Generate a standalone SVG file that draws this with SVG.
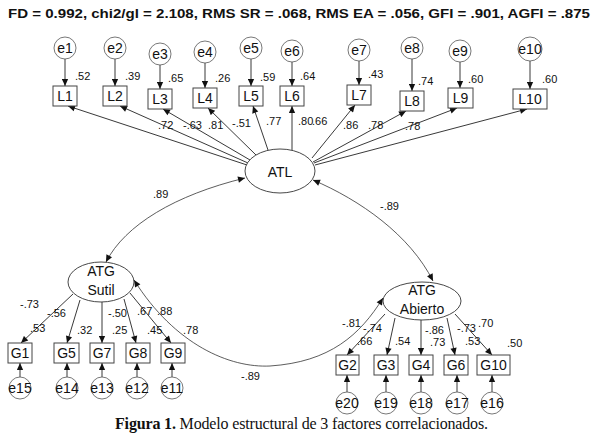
<svg xmlns="http://www.w3.org/2000/svg" width="601" height="445" viewBox="0 0 601 445">
<defs>
<marker id="ah" viewBox="0 0 10 10" refX="10" refY="5" markerWidth="8" markerHeight="7" markerUnits="userSpaceOnUse" orient="auto-start-reverse"><path d="M0,0.5 L10,5 L0,9.5 z" fill="#111"/></marker>
<style>
.bx{fill:#fff;stroke:#444;stroke-width:1}
.ci{fill:#fff;stroke:#555;stroke-width:0.8}
.el{fill:#fff;stroke:#333;stroke-width:0.9}
.nt{font-family:"Liberation Sans",Arial,sans-serif;font-size:14px;fill:#111;text-anchor:middle}
.lt{font-family:"Liberation Sans",Arial,sans-serif;font-size:14px;fill:#111;text-anchor:middle}
.lb{font-family:"Liberation Sans",Arial,sans-serif;font-size:11px;fill:#111}
.ar{fill:none;stroke:#222;stroke-width:0.9;marker-end:url(#ah)}
.cv{fill:none;stroke:#333;stroke-width:0.8;marker-start:url(#ah);marker-end:url(#ah)}
</style>
</defs>
<rect width="601" height="445" fill="#fff"/>
<text x="8" y="18" font-family="Liberation Sans,Arial,sans-serif" font-weight="bold" font-size="13" fill="#111" textLength="582" lengthAdjust="spacingAndGlyphs">FD = 0.992, chi2/gl = 2.108, RMS SR = .068, RMS EA = .056, GFI = .901, AGFI = .875</text>

<g id="connectors">
<path class="ar" d="M65,59 L65,86"/>
<path class="ar" d="M115,59 L115,86"/>
<path class="ar" d="M160,65 L160,89"/>
<path class="ar" d="M205,63 L205,88"/>
<path class="ar" d="M251,59 L251,86"/>
<path class="ar" d="M292,62 L292,86"/>
<path class="ar" d="M359,61 L359,85"/>
<path class="ar" d="M412,59 L412,91"/>
<path class="ar" d="M460,62 L460,88"/>
<path class="ar" d="M530,61 L530,89"/>
<path class="ar" d="M247,165 L68,106"/>
<path class="ar" d="M248,163 L120,106"/>
<path class="ar" d="M250,160 L163,109"/>
<path class="ar" d="M256,155 L208,108"/>
<path class="ar" d="M268,150 L253,106"/>
<path class="ar" d="M292,150 L292,106"/>
<path class="ar" d="M312,158 L355,105"/>
<path class="ar" d="M313,162 L406,111"/>
<path class="ar" d="M314,163 L457,108"/>
<path class="ar" d="M315,165 L527,109"/>
<path class="cv" d="M106,262 C125,225 175,195 245,178"/>
<path class="cv" d="M313,180 C360,200 410,235 433,281"/>
<path class="cv" d="M134,280 C175,345 230,368 270,366 C330,362 360,335 383,298"/>
<path class="ar" d="M73,294 L21,343"/>
<path class="ar" d="M80,300 L67,343"/>
<path class="ar" d="M102,302 L102,343"/>
<path class="ar" d="M124,299 L136,343"/>
<path class="ar" d="M130,293 L171,343"/>
<path class="ar" d="M20,377 L20,363"/>
<path class="ar" d="M67,377 L67,363"/>
<path class="ar" d="M102,377 L102,363"/>
<path class="ar" d="M137,377 L137,363"/>
<path class="ar" d="M172,377 L172,363"/>
<path class="ar" d="M385,314 L347,355"/>
<path class="ar" d="M395,318 L387,355"/>
<path class="ar" d="M421,320 L421,355"/>
<path class="ar" d="M447,318 L455,355"/>
<path class="ar" d="M455,314 L492,355"/>
<path class="ar" d="M347,392 L347,375"/>
<path class="ar" d="M386,392 L386,375"/>
<path class="ar" d="M421,392 L421,375"/>
<path class="ar" d="M457,392 L457,375"/>
<path class="ar" d="M492,392 L492,375"/>
</g>

<g id="labels" class="lb">
<text x="75" y="80">.52</text>
<text x="125" y="80">.39</text>
<text x="168" y="82">.65</text>
<text x="215" y="82">.26</text>
<text x="260" y="81">.59</text>
<text x="300" y="80">.64</text>
<text x="368" y="78">.43</text>
<text x="418" y="85">.74</text>
<text x="468" y="83">.60</text>
<text x="542" y="83">.60</text>
<text x="158" y="129">.72</text>
<text x="183" y="129">-.63</text>
<text x="208" y="129">.81</text>
<text x="232" y="127">-.51</text>
<text x="266" y="125">.77</text>
<text x="298" y="125">.80</text>
<text x="312" y="125">.66</text>
<text x="343" y="129">.86</text>
<text x="368" y="129">.78</text>
<text x="405" y="130">.78</text>
<text x="153" y="198">.89</text>
<text x="380" y="210">-.89</text>
<text x="20" y="308">-.73</text>
<text x="47" y="317">-.56</text>
<text x="30" y="332">.53</text>
<text x="77" y="334">.32</text>
<text x="108" y="317">-.50</text>
<text x="112" y="334">.25</text>
<text x="137" y="315">.67</text>
<text x="157" y="315">.88</text>
<text x="147" y="334">.45</text>
<text x="183" y="334">.78</text>
<text x="241" y="380">-.89</text>
<text x="342" y="327">-.81</text>
<text x="363" y="332">-.74</text>
<text x="357" y="345">.66</text>
<text x="395" y="345">.54</text>
<text x="425" y="334">-.86</text>
<text x="430" y="346">.73</text>
<text x="457" y="332">-.73</text>
<text x="478" y="327">.70</text>
<text x="465" y="345">.53</text>
<text x="507" y="347">.50</text>
</g>

<g id="ATL"><ellipse class="el" cx="280" cy="171" rx="35" ry="22"/><text class="lt" x="280" y="177">ATL</text></g>
<g id="ATG_Sutil"><ellipse class="el" cx="101" cy="282" rx="33" ry="20"/><text class="lt" x="101" y="276">ATG</text><text class="lt" x="101" y="295">Sutil</text></g>
<g id="ATG_Abierto"><ellipse class="el" cx="422" cy="301" rx="39" ry="19"/><text class="lt" x="422" y="295">ATG</text><text class="lt" x="422" y="314">Abierto</text></g>

<g id="e1"><circle class="ci" cx="65" cy="48" r="11"/><text class="nt" x="65" y="53">e1</text></g>
<g id="e2"><circle class="ci" cx="115" cy="48" r="11"/><text class="nt" x="115" y="53">e2</text></g>
<g id="e3"><circle class="ci" cx="160" cy="54" r="11"/><text class="nt" x="160" y="59">e3</text></g>
<g id="e4"><circle class="ci" cx="205" cy="52" r="11"/><text class="nt" x="205" y="57">e4</text></g>
<g id="e5"><circle class="ci" cx="251" cy="48" r="11"/><text class="nt" x="251" y="53">e5</text></g>
<g id="e6"><circle class="ci" cx="292" cy="51" r="11"/><text class="nt" x="292" y="56">e6</text></g>
<g id="e7"><circle class="ci" cx="359" cy="50" r="11"/><text class="nt" x="359" y="55">e7</text></g>
<g id="e8"><circle class="ci" cx="412" cy="48" r="11"/><text class="nt" x="412" y="53">e8</text></g>
<g id="e9"><circle class="ci" cx="460" cy="51" r="11"/><text class="nt" x="460" y="56">e9</text></g>
<g id="e10"><circle class="ci" cx="530" cy="49" r="12"/><text class="nt" x="530" y="54">e10</text></g>

<g id="L1"><rect class="bx" x="53" y="86" width="24" height="20"/><text class="nt" x="65" y="101">L1</text></g>
<g id="L2"><rect class="bx" x="103" y="86" width="24" height="20"/><text class="nt" x="115" y="101">L2</text></g>
<g id="L3"><rect class="bx" x="148" y="89" width="24" height="20"/><text class="nt" x="160" y="104">L3</text></g>
<g id="L4"><rect class="bx" x="193" y="88" width="24" height="20"/><text class="nt" x="205" y="103">L4</text></g>
<g id="L5"><rect class="bx" x="239" y="86" width="24" height="20"/><text class="nt" x="251" y="101">L5</text></g>
<g id="L6"><rect class="bx" x="280" y="86" width="24" height="20"/><text class="nt" x="292" y="101">L6</text></g>
<g id="L7"><rect class="bx" x="347" y="85" width="24" height="20"/><text class="nt" x="359" y="100">L7</text></g>
<g id="L8"><rect class="bx" x="400" y="91" width="24" height="20"/><text class="nt" x="412" y="106">L8</text></g>
<g id="L9"><rect class="bx" x="448" y="88" width="25" height="20"/><text class="nt" x="460.5" y="103">L9</text></g>
<g id="L10"><rect class="bx" x="513" y="89" width="34" height="20"/><text class="nt" x="530" y="104">L10</text></g>

<g id="G1"><rect class="bx" x="8" y="343" width="24" height="20"/><text class="nt" x="20" y="358">G1</text></g>
<g id="G5"><rect class="bx" x="54" y="343" width="25" height="20"/><text class="nt" x="66.5" y="358">G5</text></g>
<g id="G7"><rect class="bx" x="90" y="343" width="24" height="20"/><text class="nt" x="102" y="358">G7</text></g>
<g id="G8"><rect class="bx" x="126" y="343" width="24" height="20"/><text class="nt" x="138" y="358">G8</text></g>
<g id="G9"><rect class="bx" x="161" y="343" width="24" height="20"/><text class="nt" x="173" y="358">G9</text></g>
<g id="e15"><circle class="ci" cx="20" cy="388" r="11"/><text class="nt" x="20" y="393">e15</text></g>
<g id="e14"><circle class="ci" cx="67" cy="388" r="11"/><text class="nt" x="67" y="393">e14</text></g>
<g id="e13"><circle class="ci" cx="102" cy="388" r="11"/><text class="nt" x="102" y="393">e13</text></g>
<g id="e12"><circle class="ci" cx="137" cy="388" r="11"/><text class="nt" x="137" y="393">e12</text></g>
<g id="e11"><circle class="ci" cx="172" cy="388" r="11"/><text class="nt" x="172" y="393">e11</text></g>

<g id="G2"><rect class="bx" x="336" y="355" width="23" height="20"/><text class="nt" x="347.5" y="370">G2</text></g>
<g id="G3"><rect class="bx" x="374" y="355" width="24" height="20"/><text class="nt" x="386" y="370">G3</text></g>
<g id="G4"><rect class="bx" x="409" y="355" width="24" height="20"/><text class="nt" x="421" y="370">G4</text></g>
<g id="G6"><rect class="bx" x="444" y="355" width="24" height="20"/><text class="nt" x="456" y="370">G6</text></g>
<g id="G10"><rect class="bx" x="477" y="355" width="33" height="20"/><text class="nt" x="493.5" y="370">G10</text></g>
<g id="e20"><circle class="ci" cx="347" cy="403" r="11"/><text class="nt" x="347" y="408">e20</text></g>
<g id="e19"><circle class="ci" cx="386" cy="403" r="11"/><text class="nt" x="386" y="408">e19</text></g>
<g id="e18"><circle class="ci" cx="421" cy="403" r="11"/><text class="nt" x="421" y="408">e18</text></g>
<g id="e17"><circle class="ci" cx="457" cy="403" r="11"/><text class="nt" x="457" y="408">e17</text></g>
<g id="e16"><circle class="ci" cx="492" cy="403" r="11"/><text class="nt" x="492" y="408">e16</text></g>

<text x="115" y="429" font-family="Liberation Serif,Times New Roman,serif" font-size="16" fill="#111" textLength="373"><tspan font-weight="bold">Figura 1.</tspan> Modelo estructural de 3 factores correlacionados.</text>
</svg>
